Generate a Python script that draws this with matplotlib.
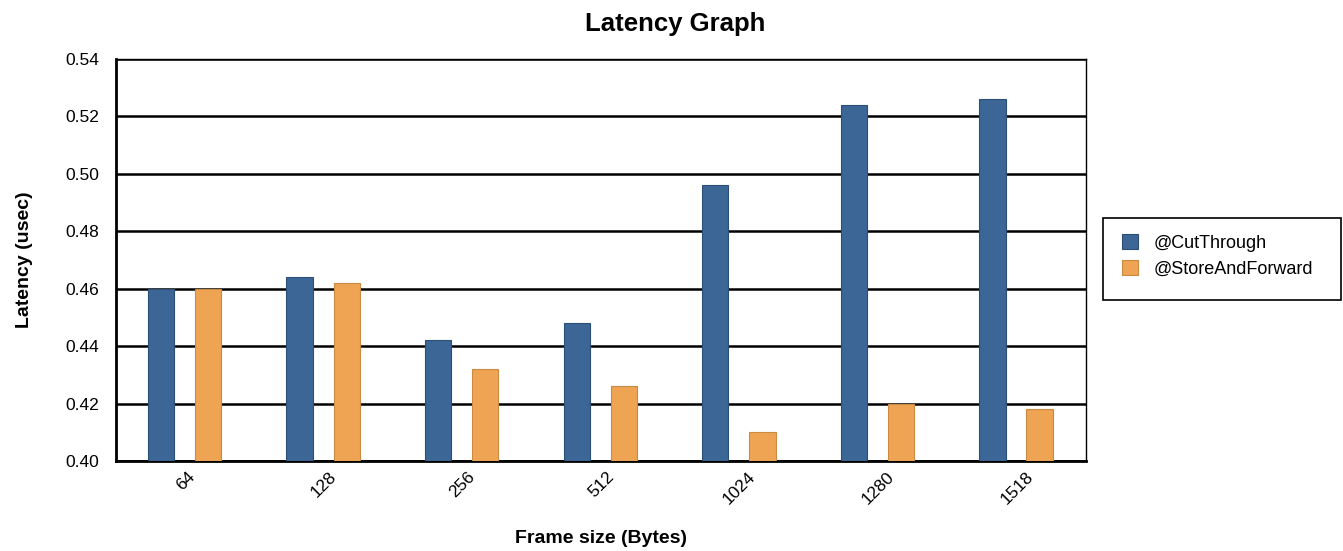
import matplotlib.pyplot as plt
from matplotlib.patches import Rectangle
import numpy as np

plt.rcParams['font.family'] = ['Liberation Sans', 'DejaVu Sans']

frame_sizes = ['64', '128', '256', '512', '1024', '1280', '1518']
cut_through = [0.460, 0.464, 0.442, 0.448, 0.496, 0.524, 0.526]
store_fwd = [0.460, 0.462, 0.432, 0.426, 0.410, 0.420, 0.418]

blue = '#3b6696'
orange = '#eea453'

W, H = 1343, 551
fig = plt.figure(figsize=(W / 100, H / 100), dpi=100)
ax = fig.add_axes([116 / W, 1 - 461 / H, 970 / W, 402 / H])

x = np.arange(len(frame_sizes))
w = 0.19
ax.bar(x - 0.175, np.array(cut_through) - 0.40, w, bottom=0.40, color=blue,
       edgecolor='#2c4f78', linewidth=0.8, label='@CutThrough', zorder=3)
ax.bar(x + 0.165, np.array(store_fwd) - 0.40, w, bottom=0.40, color=orange,
       edgecolor='#c98a42', linewidth=0.8, label='@StoreAndForward', zorder=3)

ax.set_ylim(0.40, 0.54)
ax.set_xlim(-0.5, len(frame_sizes) - 0.5)
yt = np.arange(0.40, 0.541, 0.02)
ax.set_yticks(yt)
ax.set_yticklabels(['%.2f' % v for v in yt], fontsize=12.5)
ax.set_xticks(x)
ax.set_xticklabels(frame_sizes, rotation=45, fontsize=12.5)
ax.tick_params(axis='x', length=0, pad=6)
ax.tick_params(axis='y', length=0, pad=12)
ax.yaxis.grid(True, color='black', linewidth=1.8, zorder=0)
ax.set_axisbelow(True)

for s in ['left', 'bottom']:
    ax.spines[s].set_linewidth(2)
for s in ['top', 'right']:
    ax.spines[s].set_linewidth(1)

fig.text(0.503, 1 - 24 / H, 'Latency Graph', fontsize=18.5, fontweight='bold',
         ha='center', va='center')
ax.set_xlabel('Frame size (Bytes)', fontsize=14, fontweight='bold', labelpad=16)
ax.set_ylabel('Latency (usec)', fontsize=14, fontweight='bold')
ax.yaxis.set_label_coords((33 - 116) / 970, 0.5)

# legend box drawn by hand, entries without frame
fig.patches.append(Rectangle((1103 / W, 1 - 300 / H), 238 / W, 82 / H,
                             transform=fig.transFigure, fill=False,
                             edgecolor='black', linewidth=1.2))
leg = fig.legend(loc='upper left', bbox_to_anchor=(1122 / W, 1 - 234 / H), fontsize=13,
                 frameon=False, handlelength=0.9, handleheight=0.9, borderpad=0,
                 labelspacing=0.45, handletextpad=0.85, borderaxespad=0)

fig.savefig('out.png', dpi=100)
